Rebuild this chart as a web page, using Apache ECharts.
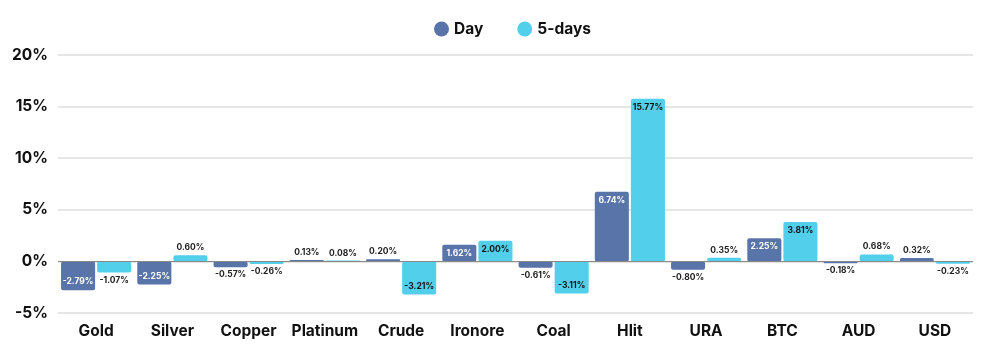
<!DOCTYPE html>
<html>
<head>
<meta charset="utf-8">
<script src="https://cdn.jsdelivr.net/npm/echarts@6/dist/echarts.min.js"></script>
<style>
  html, body { margin: 0; padding: 0; background: #fff; }
  #main { width: 988px; height: 353px; }
</style>
</head>
<body>
<div id="main"></div>
<script>
// categories and values (percent)
const categories = ['Gold', 'Silver', 'Copper', 'Platinum', 'Crude', 'Ironore', 'Coal', 'Hlit', 'URA', 'BTC', 'AUD', 'USD'];
const dayValues = [-2.79, -2.25, -0.57, 0.13, 0.20, 1.62, -0.61, 6.74, -0.80, 2.25, -0.18, 0.32];
const fiveDayValues = [-1.07, 0.60, -0.26, 0.08, -3.21, 2.00, -3.11, 15.77, 0.35, 3.81, 0.68, -0.23];

const font = 'Inter, "Open Sans", sans-serif';

// big bars get their label inside, small ones outside
function toItems(values, insideColor) {
  return values.map(function (v) {
    const big = Math.abs(v) >= 1.5;
    let pos;
    if (big) pos = v >= 0 ? 'insideTop' : 'insideBottom';
    else pos = v >= 0 ? 'top' : 'bottom';
    return {
      value: v,
      label: {
        position: pos,
        color: big ? insideColor : '#222',
        distance: big ? 4 : 3
      }
    };
  });
}

const myChart = echarts.init(document.getElementById('main'));
myChart.setOption({
  animation: false,
  textStyle: { fontFamily: font },
  legend: {
    top: 16,
    left: 429,
    icon: 'circle',
    itemWidth: 15,
    itemHeight: 15,
    itemGap: 34,
    textStyle: { fontSize: 15.5, fontWeight: 'bold', color: '#111', fontFamily: font }
  },
  grid: { left: 58, right: 15, top: 55, bottom: 40 },
  xAxis: {
    type: 'category',
    data: categories,
    axisLine: { show: false },
    axisTick: { show: false },
    axisLabel: {
      interval: 0, fontSize: 15.5, fontWeight: 'bold', color: '#111', margin: 10, fontFamily: font
    }
  },
  yAxis: {
    type: 'value',
    min: -5,
    max: 20,
    interval: 5,
    axisLabel: {
      formatter: '{value}%', fontSize: 15.5, fontWeight: 'bold', color: '#111', margin: 10, fontFamily: font
    },
    splitLine: { lineStyle: { color: '#dedede', width: 1.5 } }
  },
  series: [
    {
      name: 'Day',
      type: 'bar',
      data: toItems(dayValues, '#fff'),
      barGap: '6%',
      barCategoryGap: '8%',
      itemStyle: { color: '#5874a8', borderRadius: 2 },
      label: {
        show: true,
        fontSize: 8.5,
        fontWeight: 'bold',
        fontFamily: font,
        formatter: function (p) { return p.value.toFixed(2) + '%'; }
      },
      markLine: {
        silent: true,
        symbol: 'none',
        label: { show: false },
        lineStyle: { color: '#888', type: 'solid', width: 1 },
        data: [{ yAxis: 0 }]
      }
    },
    {
      name: '5-days',
      type: 'bar',
      data: toItems(fiveDayValues, '#111'),
      itemStyle: { color: '#52d0eb', borderRadius: 2 },
      label: {
        show: true,
        fontSize: 8.5,
        fontWeight: 'bold',
        fontFamily: font,
        formatter: function (p) { return p.value.toFixed(2) + '%'; }
      }
    }
  ]
});
</script>
</body>
</html>
